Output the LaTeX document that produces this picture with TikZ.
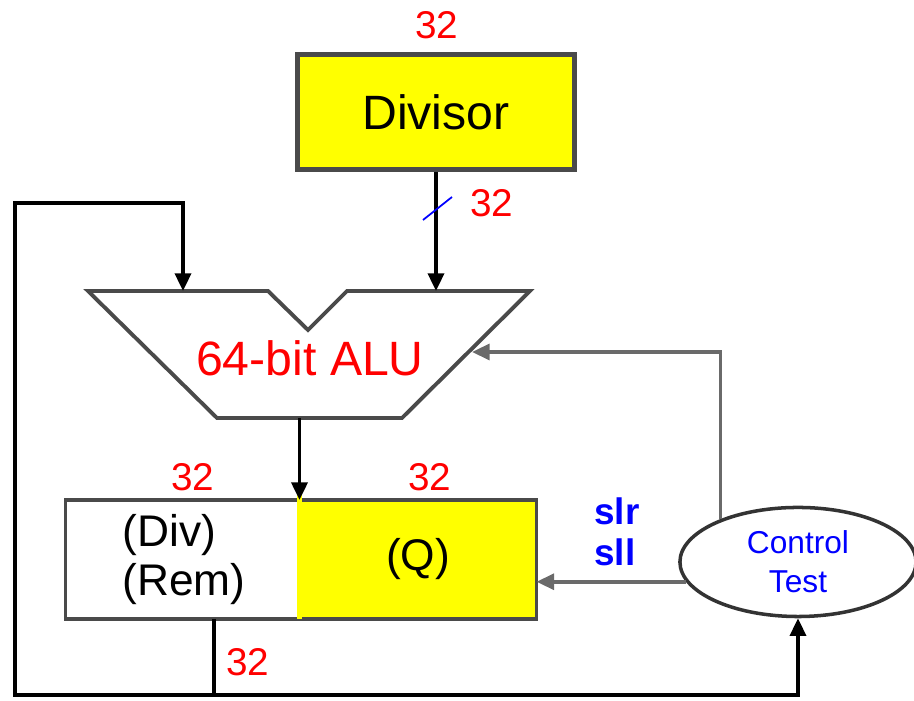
\documentclass[tikz,border=0pt]{standalone}
\usepackage{fontspec}
\setmainfont{Liberation Sans}
\usetikzlibrary{arrows.meta,positioning,shapes.geometric,calc}
\definecolor{boxgray}{HTML}{4A4A4A}
\definecolor{wiregray}{HTML}{6A6A6A}
\definecolor{regyellow}{HTML}{FFFF00}
\definecolor{labred}{HTML}{FF0000}
\definecolor{labblue}{HTML}{0000FF}

\begin{document}
\begin{tikzpicture}[x=0.01cm, y=-0.01cm, >={Triangle[length=5pt,width=4.5pt]}, line width=1.1pt,
  reg/.style={minimum height=1.15cm, inner ysep=0pt, font=\fontsize{12.6}{14}\selectfont},
  bits/.style={text=labred, font=\fontsize{11}{13}\selectfont},
  ctl/.style={text=labblue, font=\bfseries\fontsize{10.5}{11.6}\selectfont, align=left},
  wire/.style={draw=wiregray, line width=1pt}]
\useasboundingbox (0,0) rectangle (914,701);

% divisor register
\node[draw=boxgray, line width=1.4pt, fill=regyellow, minimum width=2.77cm, minimum height=1.15cm,
  font=\fontsize{13.7}{16}\selectfont] (divisor) at (436,112) {Divisor};
\node[bits] (b-div) at (437,25) {32};

% ALU
\draw[boxgray] (88,291) -- (268,291) -- (308,330) -- (347,291) -- (530,291)
  -- (402,418) -- (217,418) -- cycle;
\node[text=labred, font=\fontsize{13.7}{16}\selectfont] (alu) at (310,358) {64-bit ALU};
\coordinate (alu-a) at (183,291);
\coordinate (alu-b) at (436,291);
\coordinate (alu-c) at (472,352);

% remainder / quotient register
\node[reg, text width=1.2cm, inner xsep=0.55cm, align=left] (rem) at (182.5,559.5) {(Div)\\(Rem)};
\node[reg, fill=regyellow, minimum width=2.33cm, right=0pt of rem] (quot) {(Q)};
\draw[boxgray] (rem.north west) rectangle (quot.south east);
\draw[regyellow, line width=1.5pt] ([yshift=3pt]quot.north west) -- (quot.south west);
\coordinate (alu-out) at (quot.north west |- 0,418);
\node[bits] (b-rem) at (193,477) {32};
\node[bits] (b-quot) at (430,477) {32};
\node[bits] (b-out) at (248,662) {32};

% control
\node[ellipse, draw=black!80, line width=1pt, minimum width=2.36cm, minimum height=1.09cm, inner sep=0pt,
  text=labblue, align=center, font=\fontsize{9}{11}\selectfont] (ctrl) at (798,562) {Control\\Test};
\node[ctl] (shift) at (617,532) {slr\\sll};

% connections
\draw[->] (divisor.south) -- (alu-b);
\draw[labblue, line width=0.5pt] (437,208) ++(-14,12) -- ++(29,-23);
\node[bits] (b-in) at (492,203) {32};
\draw[->] (alu-out) -- (quot.north west);
\coordinate (rem-tap) at ($(rem.south west)!0.633!(rem.south east)$);
\coordinate (bus) at (rem-tap |- 0,695);
\draw[->] (rem-tap) -- (bus) -| (15,203) -| (alu-a);
\draw[->] (bus) -| (ctrl.south);
\draw[wire, ->] (ctrl.190) -- (ctrl.190 -| quot.east);
\draw[wire, ->] (ctrl.151) |- (alu-c);
\end{tikzpicture}
\end{document}
